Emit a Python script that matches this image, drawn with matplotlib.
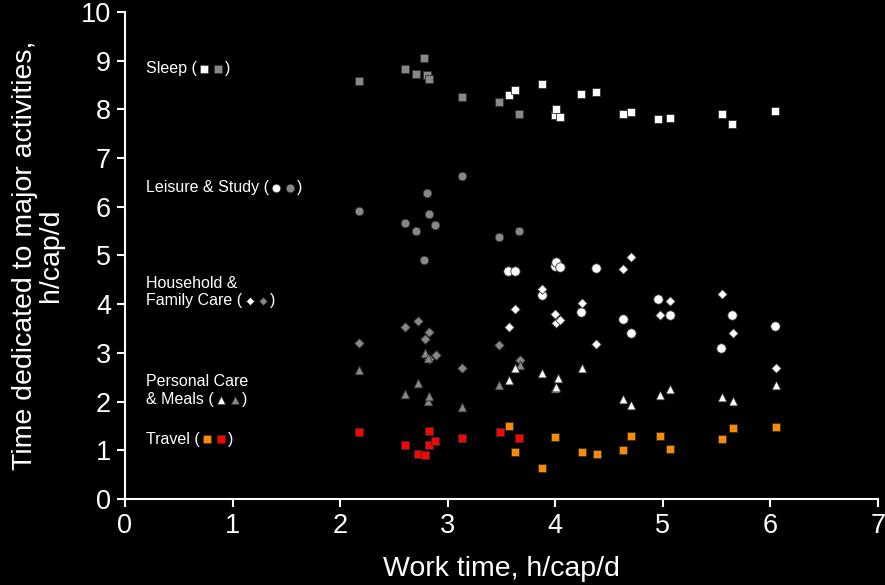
import matplotlib
matplotlib.use("Agg")
import matplotlib.pyplot as plt
from matplotlib.lines import Line2D
from matplotlib.offsetbox import TextArea, DrawingArea, HPacker, VPacker, AnnotationBbox

plt.rcParams['font.family'] = ['Liberation Sans', 'DejaVu Sans']

GRAY = '#888888'
ORANGE = '#FF8A00'
RED = '#FF0000'

# sleep
sleep_gray_x = [2.18, 2.60, 2.71, 2.78, 2.81, 2.83, 3.13, 3.48, 3.66]
sleep_gray_y = [8.58, 8.83, 8.73, 9.06, 8.70, 8.62, 8.26, 8.15, 7.90]
sleep_white_x = [3.57, 3.63, 3.88, 4.00, 4.01, 4.04, 4.24, 4.38, 4.63, 4.70, 4.96, 5.07, 5.55, 5.64, 6.04]
sleep_white_y = [8.30, 8.39, 8.52, 7.88, 8.01, 7.84, 8.32, 8.36, 7.91, 7.95, 7.80, 7.82, 7.90, 7.71, 7.96]

# leisure & study
leis_gray_x = [2.18, 2.60, 2.71, 2.78, 2.81, 2.83, 2.88, 3.13, 3.48, 3.66]
leis_gray_y = [5.92, 5.67, 5.50, 4.91, 6.28, 5.86, 5.62, 6.63, 5.37, 5.50]
leis_white_x = [3.56, 3.63, 3.88, 4.00, 4.01, 4.04, 4.24, 4.38, 4.63, 4.70, 4.96, 5.07, 5.54, 5.64, 6.04]
leis_white_y = [4.69, 4.69, 4.19, 4.78, 4.87, 4.76, 3.85, 4.74, 3.70, 3.40, 4.11, 3.77, 3.10, 3.77, 3.55]

# household & family care
house_gray_x = [2.18, 2.60, 2.72, 2.79, 2.83, 2.83, 2.89, 3.13, 3.48, 3.67]
house_gray_y = [3.20, 3.53, 3.65, 3.29, 3.43, 2.87, 2.95, 2.70, 3.16, 2.85]
house_white_x = [3.57, 3.63, 3.88, 4.00, 4.01, 4.04, 4.25, 4.38, 4.63, 4.70, 4.97, 5.07, 5.55, 5.65, 6.05]
house_white_y = [3.53, 3.90, 4.31, 3.80, 3.61, 3.67, 4.02, 3.18, 4.72, 4.96, 3.78, 4.07, 4.20, 3.41, 2.70]

# personal care & meals
pers_gray_x = [2.18, 2.60, 2.72, 2.79, 2.82, 2.82, 2.83, 3.13, 3.48, 3.67]
pers_gray_y = [2.65, 2.16, 2.38, 2.99, 2.90, 2.02, 2.12, 1.88, 2.34, 2.75]
pers_white_x = [3.57, 3.63, 3.88, 4.00, 4.01, 4.03, 4.25, 4.63, 4.70, 4.97, 5.07, 5.55, 5.65, 6.05]
pers_white_y = [2.44, 2.68, 2.59, 2.27, 2.30, 2.49, 2.70, 2.06, 1.92, 2.13, 2.25, 2.09, 2.01, 2.34]

# travel
trav_red_x = [2.18, 2.60, 2.72, 2.79, 2.83, 2.83, 2.88, 3.13, 3.49, 3.66]
trav_red_y = [1.38, 1.11, 0.93, 0.91, 1.40, 1.10, 1.20, 1.25, 1.38, 1.25]
trav_orange_x = [3.57, 3.63, 3.88, 4.00, 4.25, 4.39, 4.63, 4.70, 4.97, 5.07, 5.55, 5.65, 6.05]
trav_orange_y = [1.50, 0.97, 0.64, 1.28, 0.96, 0.93, 1.00, 1.29, 1.29, 1.03, 1.23, 1.46, 1.48]

fig = plt.figure(figsize=(8.85, 5.85), dpi=100, facecolor='black')
ax = fig.add_axes([0.1412, 0.147, 0.8508, 0.8325], facecolor='black')

edge = '#303030'
ax.scatter(sleep_gray_x, sleep_gray_y, marker='s', s=40, c=GRAY, edgecolors=edge, linewidths=0.6, zorder=3)
ax.scatter(sleep_white_x, sleep_white_y, marker='s', s=40, c='white', edgecolors=edge, linewidths=0.6, zorder=3)
ax.scatter(leis_gray_x, leis_gray_y, marker='o', s=38, c=GRAY, edgecolors=edge, linewidths=0.6, zorder=3)
ax.scatter(leis_white_x, leis_white_y, marker='o', s=46, c='white', edgecolors=edge, linewidths=0.6, zorder=3)
ax.scatter(house_gray_x, house_gray_y, marker='D', s=24, c=GRAY, edgecolors=edge, linewidths=0.6, zorder=3)
ax.scatter(house_white_x, house_white_y, marker='D', s=24, c='white', edgecolors=edge, linewidths=0.6, zorder=3)
ax.scatter(pers_gray_x, pers_gray_y, marker='^', s=40, c=GRAY, edgecolors=edge, linewidths=0.6, zorder=3)
ax.scatter(pers_white_x, pers_white_y, marker='^', s=40, c='white', edgecolors=edge, linewidths=0.6, zorder=3)
ax.scatter(trav_red_x, trav_red_y, marker='s', s=32, c=RED, edgecolors=edge, linewidths=0.6, zorder=3)
ax.scatter(trav_orange_x, trav_orange_y, marker='s', s=32, c=ORANGE, edgecolors=edge, linewidths=0.6, zorder=3)

ax.set_xlim(0, 7)
ax.set_ylim(0, 10)
ax.set_xticks(range(0, 8))
ax.set_yticks(range(0, 11))
for s in ['top', 'right']:
    ax.spines[s].set_visible(False)
for s in ['left', 'bottom']:
    ax.spines[s].set_color('white')
    ax.spines[s].set_linewidth(1.5)
ax.tick_params(colors='white', labelsize=19.5, length=6, width=1.5, direction='out', pad=4)
ax.set_xlabel('Work time, h/cap/d', color='white', fontsize=20.5, labelpad=12)
ax.set_ylabel('Time dedicated to major activities,\nh/cap/d', color='white', fontsize=20.5,
              labelpad=12, linespacing=1.0)


def sym(marker, color, ms):
    da = DrawingArea(10, 10, 0, 0)
    da.add_artist(Line2D([5], [5], marker=marker, ms=ms, color=color,
                         markeredgecolor=edge, markeredgewidth=0.4, linestyle='none'))
    return da


def label(lines, marker, c1, c2, ms, y):
    tp = dict(color='white', fontsize=11.5)
    rows = []
    for ln in lines[:-1]:
        rows.append(TextArea(ln, textprops=tp))
    last = HPacker(children=[TextArea(lines[-1] + ' (', textprops=tp),
                             sym(marker, c1, ms), sym(marker, c2, ms),
                             TextArea(')', textprops=tp)],
                   align='center', pad=0, sep=0)
    rows.append(last)
    box = VPacker(children=rows, align='left', pad=0, sep=2) if len(rows) > 1 else last
    ab = AnnotationBbox(box, (0.2, y), xycoords='data', box_alignment=(0, 0.5),
                        frameon=False, pad=0)
    ax.add_artist(ab)


label(['Sleep'], 's', 'white', GRAY, 6, 8.83)
label(['Leisure & Study'], 'o', 'white', GRAY, 6, 6.39)
label(['Household &', 'Family Care'], 'D', 'white', GRAY, 4.5, 4.25)
label(['Personal Care', '& Meals'], '^', 'white', GRAY, 6, 2.22)
label(['Travel'], 's', ORANGE, RED, 5.5, 1.23)

fig.savefig('out.png', dpi=100, facecolor='black')
